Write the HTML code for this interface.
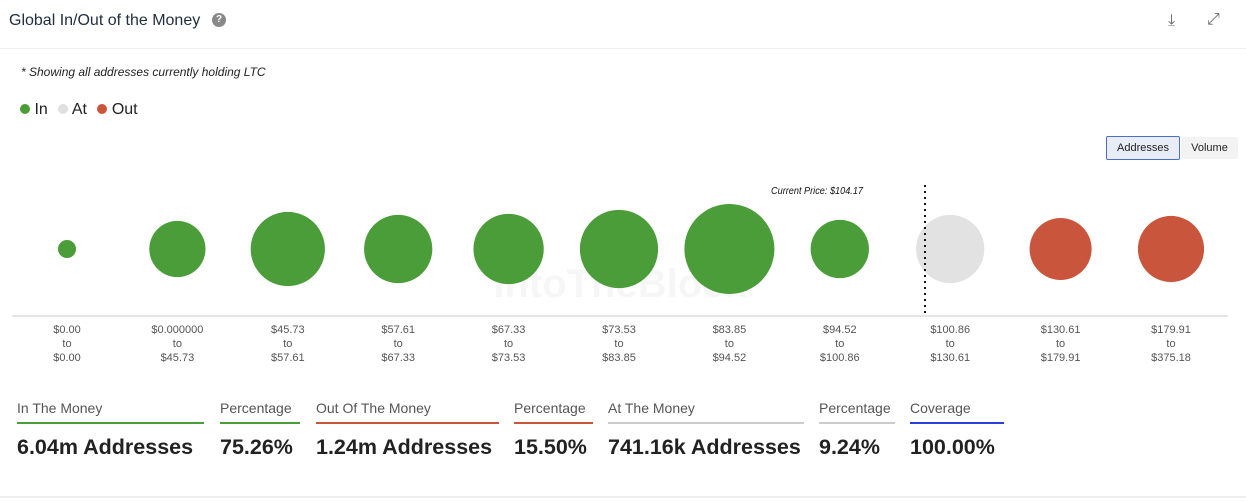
<!DOCTYPE html>
<html><head><meta charset="utf-8"><style>
body{margin:0;width:1246px;height:502px;background:#fff;font-family:"Liberation Sans",sans-serif;color:#1f2937;overflow:hidden;position:relative}
.abs{position:absolute}
.stat{position:absolute;top:400px}
.stat .lbl{font-size:14px;color:#555;padding-bottom:6px;border-bottom:2px solid}
.stat .val{font-size:21.5px;font-weight:bold;color:#222;margin-top:11px;white-space:nowrap}
.btn{position:absolute;top:136px;height:22px;font-size:11px;line-height:22px;text-align:center;border-radius:2px}
</style></head><body>
<div class="abs" style="left:9px;top:12px;font-size:16px;color:#1f2d3d">Global In/Out of the Money</div>
<div class="abs" style="left:212px;top:13px;width:14px;height:14px;border-radius:50%;background:#888;color:#fff;font-size:10px;font-weight:bold;text-align:center;line-height:14px">?</div>
<div class="abs" style="left:1168px;top:12px;font-size:16px;color:#666">⤓</div>
<div class="abs" style="left:1207px;top:11px;font-size:16px;color:#666">⤢</div>
<div class="abs" style="left:0;top:48px;width:1246px;height:1px;background:#eee"></div>
<div class="abs" style="left:21px;top:65px;font-size:12px;font-style:italic;color:#222">* Showing all addresses currently holding LTC</div>
<div class="abs" style="left:20px;top:101px;font-size:16px;color:#222">
<span><span style="display:inline-block;width:10px;height:10px;border-radius:50%;background:#4a9d39"></span> In</span>
<span style="margin-left:6px"><span style="display:inline-block;width:10px;height:10px;border-radius:50%;background:#e0e0e0"></span> At</span>
<span style="margin-left:6px"><span style="display:inline-block;width:10px;height:10px;border-radius:50%;background:#c9563c"></span> Out</span></div>
<div class="btn" style="left:1106px;width:72px;border:1px solid #4a6fd0;background:#e8edf8;color:#222">Addresses</div>
<div class="btn" style="left:1181px;width:57px;background:#f3f3f3;color:#222;top:137px">Volume</div>
<svg class="abs" style="left:0;top:0" width="1246" height="400">
<g id="g"></g>
</svg>
<div class="stat" style="left:17px;width:187px"><div class="lbl" style="border-color:#4a9d39">In The Money</div><div class="val">6.04m Addresses</div></div>
<div class="stat" style="left:220px;width:80px"><div class="lbl" style="border-color:#4a9d39">Percentage</div><div class="val">75.26%</div></div>
<div class="stat" style="left:316px;width:183px"><div class="lbl" style="border-color:#c9563c">Out Of The Money</div><div class="val">1.24m Addresses</div></div>
<div class="stat" style="left:514px;width:79px"><div class="lbl" style="border-color:#c9563c">Percentage</div><div class="val">15.50%</div></div>
<div class="stat" style="left:608px;width:196px"><div class="lbl" style="border-color:#ccc">At The Money</div><div class="val">741.16k Addresses</div></div>
<div class="stat" style="left:819px;width:76px"><div class="lbl" style="border-color:#ccc">Percentage</div><div class="val">9.24%</div></div>
<div class="stat" style="left:910px;width:94px"><div class="lbl" style="border-color:#2a3fe0">Coverage</div><div class="val">100.00%</div></div>
<div class="abs" style="left:0;top:496px;width:1246px;height:2px;background:#eee"></div>
<script>
const lows=["$0.00","$0.000000","$45.73","$57.61","$67.33","$73.53","$83.85","$94.52","$100.86","$130.61","$179.91"];
const highs=["$0.00","$45.73","$57.61","$67.33","$73.53","$83.85","$94.52","$100.86","$130.61","$179.91","$375.18"];
const addresses=[40,390,680,575,610,755,1000,420,575,475,540];
const status=["in","in","in","in","in","in","in","in","at","out","out"];
const currentPrice=104.17;
const colors={in:"#4a9d39",at:"#e2e2e2",out:"#c9563c"};
const NS="http://www.w3.org/2000/svg";
const g=document.getElementById("g");
const x0=67,step=110.4,cy=249,rMax=45;
const xScale=i=>x0+i*step;
const rScale=v=>rMax*Math.sqrt(v/Math.max(...addresses));
function mk(t,a){const e=document.createElementNS(NS,t);for(const k in a)e.setAttribute(k,a[k]);g.appendChild(e);return e;}
const wm=mk("text",{x:620,y:297,"text-anchor":"middle","font-size":40,"font-weight":"bold",fill:"#000",opacity:0.03});
wm.textContent="IntoTheBlock";


const ax=mk("line",{x1:12,x2:1228,y1:316,y2:316,stroke:"#ccc"});


addresses.forEach((v,i)=>{
 const c=mk("circle",{cx:xScale(i),cy:cy,r:rScale(v),fill:colors[status[i]]});
 
 
 [lows[i],"to",highs[i]].forEach((s,j)=>{
  const t=mk("text",{x:xScale(i),y:333+j*14,"text-anchor":"middle","font-size":11,fill:"#555"});
  t.textContent=s;
  
  
 });
});
const ai=status.indexOf("at");
const px=xScale(ai-0.5)+30;
const ln=mk("line",{x1:px,x2:px,y1:185,y2:314,stroke:"#111","stroke-width":2,"stroke-dasharray":"2,4"});


const lt=mk("text",{x:px-154,y:194,"font-size":10.5,"font-style":"italic",fill:"#111",textLength:92,lengthAdjust:"spacingAndGlyphs"});
lt.textContent="Current Price: $"+currentPrice.toFixed(2);


</script>
</body></html>
